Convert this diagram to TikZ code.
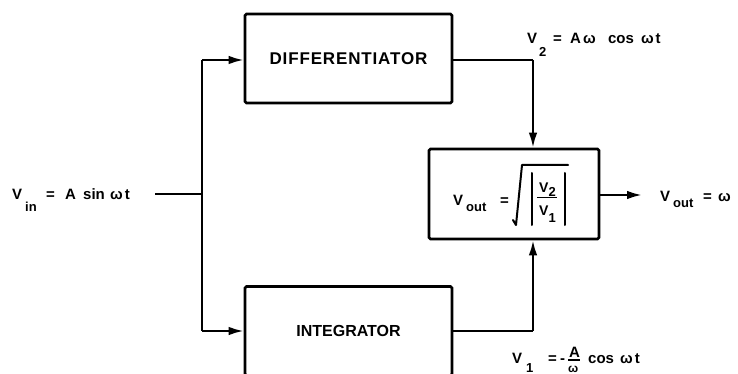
\documentclass[tikz,border=0pt]{standalone}
\usepackage{graphicx}
\usepackage{fontspec}
\setmainfont{Liberation Sans}
\usetikzlibrary{arrows.meta}

% fixed-width slot for one piece of a label
\newcommand\slot[2]{\makebox[#1pt][l]{#2}}
% subscript lowered by #1 pt
\newcommand\lowsub[2]{\raisebox{-#1pt}{\fontsize{13}{13}\selectfont #2}}

\begin{document}
\begin{tikzpicture}[x=1pt,y=-1pt,
  blk/.style={draw, line width=2.6pt, rounded corners=1.5pt,
    minimum width=207pt, minimum height=89pt, inner sep=0pt},
  wire/.style={line width=2.2pt},
  arr/.style={wire, -{Latex[length=15pt,width=8.5pt]}},
  lbl/.style={inner sep=0pt, font=\fontsize{15}{17}\selectfont\bfseries},
  small/.style={inner sep=0pt, font=\fontsize{14}{16}\selectfont\bfseries},
  glyph/.style={line width=2pt, line cap=round, line join=round}]

\path[use as bounding box, clip] (0,0) rectangle (738,374);

% blocks
\node[blk, font=\fontsize{17}{19}\selectfont\bfseries\addfontfeature{LetterSpace=5}]
  (diff) at (348.5,58.5) {DIFFERENTIATOR};
\node[blk, font=\fontsize{16}{18}\selectfont\bfseries]
  (integ) at (348.5,331) {INTEGRATOR\hspace{12pt}};
\node[blk, minimum width=170pt, minimum height=90pt] (vout) at (514,194) {};

% input and branching
\coordinate (in) at (155,194);
\coordinate (j) at (202,194);
\coordinate (jt) at (202,60);
\coordinate (jb) at (202,331);
\draw[wire] (in) -- (j);
\draw[wire] (jt) -- (jb);
\draw[arr] (jt) -- (diff.west |- jt);
\draw[arr] (jb) -- (integ.west |- jb);

% block outputs into the divider
\coordinate (dt) at (533,60);
\coordinate (ib) at (533,331);
\draw[wire] (diff.east |- dt) -- (dt);
\draw[arr] (dt) -- (vout.north -| dt);
\draw[wire] (integ.east |- ib) -- (ib);
\draw[arr] (ib) -- (vout.south -| ib);

% output
\coordinate (out) at (642,195);
\draw[arr] (vout.east |- out) -- (out);

% signal labels
\node[lbl, anchor=base west] (vin) at (12,200)
  {\slot{13}{V}\slot{21}{\lowsub{12}{in}}\slot{19}{=}\slot{18}{A}\slot{27}{sin}ω\hspace{2pt}t};
\node[lbl, anchor=base west] (v2) at (527,44)
  {\slot{12}{V}\slot{14}{\lowsub{13}{2}}\slot{17}{=}A\hspace{2pt}\slot{25}{ω}\slot{33}{cos}ω\hspace{2pt}t};
\node[lbl, anchor=base west] (v1) at (512,363)
  {\slot{14}{V}\slot{22}{\lowsub{9}{1}}\slot{12}{=}-};
\node[lbl, anchor=base west] (fa) at (569,357) {A};
\draw[line width=1.2pt] (568,360) -- (580,360);
\node[lbl, anchor=base west, font=\fontsize{12}{12}\selectfont\bfseries] (fw) at (568,372) {ω};
\node[lbl, anchor=base west] (v1c) at (588,363) {\slot{32}{cos}ω\hspace{2pt}t};
\node[lbl, anchor=base west] (vo) at (660,201)
  {\slot{13}{V}\slot{30}{\lowsub{6}{out}}\slot{15}{=}ω};

% divider formula
\node[lbl, anchor=base west] (vl) at (453,205)
  {\slot{13}{V}\slot{34}{\lowsub{6}{out}}=};
\draw[glyph] (513,220) -- (516,225) -- (522,165) -- (568,165);
\draw[glyph] (532,173) -- (532,225);
\draw[glyph] (565,173) -- (565,225);
\node[small, anchor=base west] (num) at (539,192) {V\lowsub{5}{2}};
\draw[line width=1.5pt] (537,197.5) -- (557,197.5);
\node[small, anchor=base west] (den) at (539,215) {V\lowsub{7}{1}};

\end{tikzpicture}
\end{document}
